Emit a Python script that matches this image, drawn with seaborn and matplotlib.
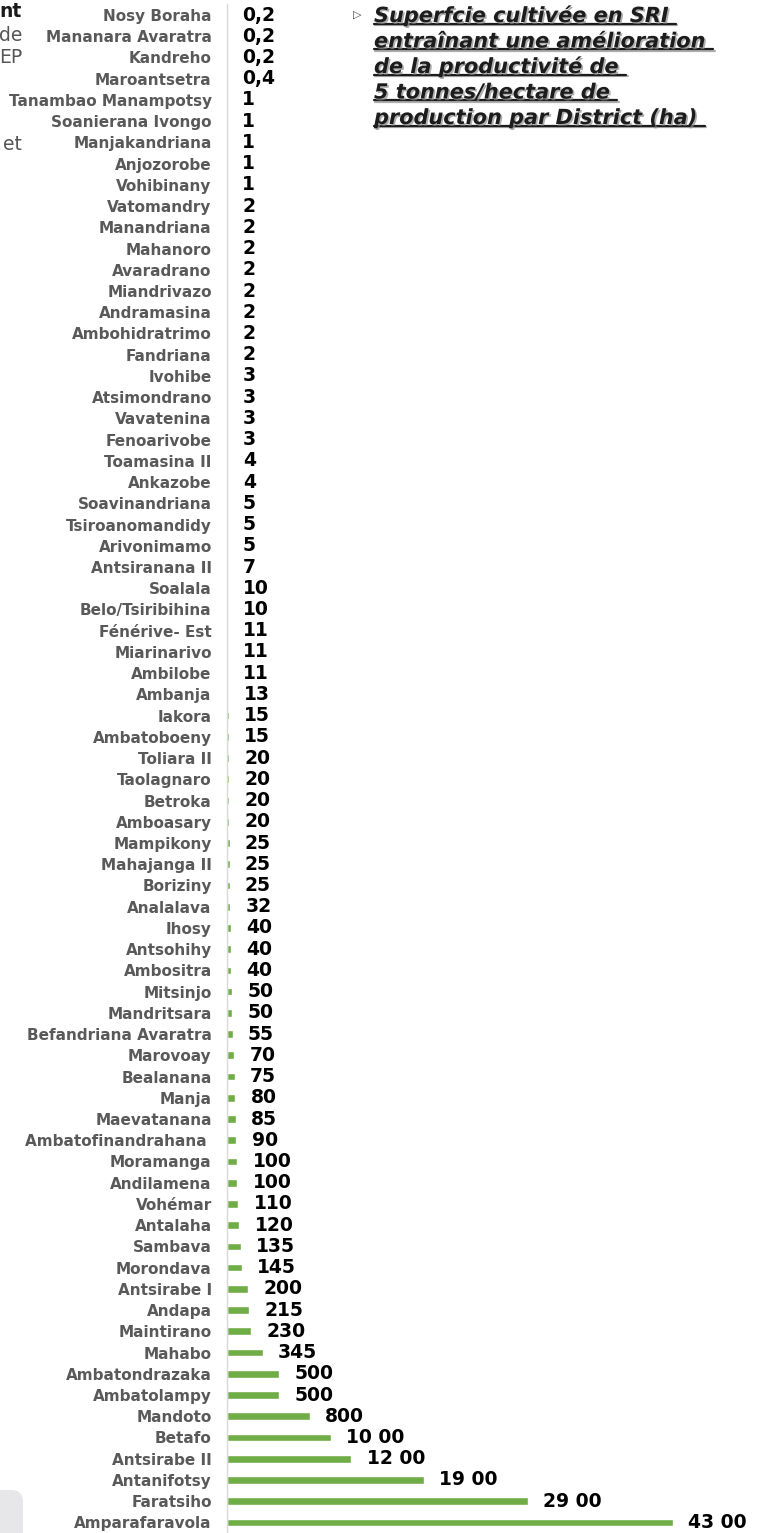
import matplotlib
matplotlib.use("Agg")
import matplotlib.pyplot as plt
import matplotlib.patheffects as pe
from matplotlib.patches import FancyBboxPatch
from matplotlib.lines import Line2D
import seaborn as sns
import pandas as pd

districts = [
    "Nosy Boraha", "Mananara Avaratra", "Kandreho", "Maroantsetra",
    "Tanambao Manampotsy", "Soanierana Ivongo", "Manjakandriana", "Anjozorobe",
    "Vohibinany", "Vatomandry", "Manandriana", "Mahanoro", "Avaradrano",
    "Miandrivazo", "Andramasina", "Ambohidratrimo", "Fandriana", "Ivohibe",
    "Atsimondrano", "Vavatenina", "Fenoarivobe", "Toamasina II", "Ankazobe",
    "Soavinandriana", "Tsiroanomandidy", "Arivonimamo", "Antsiranana II",
    "Soalala", "Belo/Tsiribihina", "Fénérive- Est", "Miarinarivo", "Ambilobe",
    "Ambanja", "Iakora", "Ambatoboeny", "Toliara II", "Taolagnaro", "Betroka",
    "Amboasary", "Mampikony", "Mahajanga II", "Boriziny", "Analalava", "Ihosy",
    "Antsohihy", "Ambositra", "Mitsinjo", "Mandritsara", "Befandriana Avaratra",
    "Marovoay", "Bealanana", "Manja", "Maevatanana", "Ambatofinandrahana ",
    "Moramanga", "Andilamena", "Vohémar", "Antalaha", "Sambava", "Morondava",
    "Antsirabe I", "Andapa", "Maintirano", "Mahabo", "Ambatondrazaka",
    "Ambatolampy", "Mandoto", "Betafo", "Antsirabe II", "Antanifotsy",
    "Faratsiho", "Amparafaravola",
]
values = [
    0.2, 0.2, 0.2, 0.4,
    1, 1, 1, 1,
    1, 2, 2, 2, 2,
    2, 2, 2, 2, 3,
    3, 3, 3, 4, 4,
    5, 5, 5, 7,
    10, 10, 11, 11, 11,
    13, 15, 15, 20, 20, 20,
    20, 25, 25, 25, 32, 40,
    40, 40, 50, 50, 55,
    70, 75, 80, 85, 90,
    100, 100, 110, 120, 135, 145,
    200, 215, 230, 345, 500,
    500, 800, 1000, 1200, 1900,
    2900, 4300,
]
title_lines = [
    "Superfcie cultivée en SRI",
    "entraînant une amélioration",
    "de la productivité de",
    "5 tonnes/hectare de",
    "production par District (ha)",
]
side_fragments = ["nt", "de", "EP", "et"]


def fmt(v):
    if v < 1:
        return f"{v:.1f}".replace(".", ",")
    if v >= 1000:
        return f"{int(v) // 100} 00"
    return f"{int(v)}"


sns.set_theme(style="white")
plt.rcParams["font.family"] = ["DejaVu Sans"]

W, H = 765, 1533
fig = plt.figure(figsize=(W / 100, H / 100), dpi=100)
fig.patch.set_facecolor("white")

ax_left = 227
ax_top = 4.4
ax = fig.add_axes([ax_left / W, 0, (W - ax_left) / W, (H - ax_top) / H])
df = pd.DataFrame({"district": districts, "value": values})
sns.barplot(data=df, x="value", y="district", orient="h", color="#70AD47",
            saturation=1, width=0.36, ax=ax)
ax.set_xlim(0, (W - ax_left) / 0.1037)
ax.set_ylim(len(districts) - 0.5, -0.5)
for s in ["top", "right", "bottom"]:
    ax.spines[s].set_visible(False)
ax.spines["left"].set_color("#d9d9d9")
ax.spines["left"].set_linewidth(1.0)
ax.set_xticks([])
ax.set_xlabel("")
ax.set_ylabel("")
ax.tick_params(axis="y", length=0, pad=11, labelsize=11, labelcolor="#595959")
for lbl in ax.get_yticklabels():
    lbl.set_fontweight("bold")

for i, v in enumerate(values):
    ax.annotate(fmt(v), xy=(v, i), xytext=(11, 0), textcoords="offset points",
                va="center", ha="left", fontsize=13.5, fontweight="bold",
                color="black", annotation_clip=False)

# Title block with bullet, shadow and underline
shadow = [pe.SimplePatchShadow(offset=(1.2, -1.2), shadow_rgbFace="#8c8c8c", alpha=0.7),
          pe.Normal()]
fig.text(357 / W, 1 - 15 / H, "▷", fontsize=8, color="#444444",
         ha="center", va="center")
title_texts = []
for k, line in enumerate(title_lines):
    yb = 22 + 25.5 * k
    t = fig.text(374 / W, 1 - yb / H, line, fontsize=15, fontweight="bold",
                 fontstyle="italic", ha="left", va="baseline", color="#1c1c1c",
                 path_effects=shadow)
    title_texts.append((t, yb))

fig.canvas.draw()
renderer = fig.canvas.get_renderer()
for t, yb in title_texts:
    bb = t.get_window_extent(renderer)
    yu = (H - yb - 1.8) / H
    fig.add_artist(Line2D([bb.x0 / W, (bb.x1 + 7) / W], [yu, yu],
                          transform=fig.transFigure, color="#1c1c1c", lw=1.6,
                          path_effects=[pe.SimpleLineShadow(offset=(1, -1), shadow_color="#8c8c8c", alpha=0.7),
                                        pe.Normal()]))

# Cut-off fragments of neighbouring slide text on the left edge
frag_y = [17, 41, 63, 150]
for k, (frag, yb) in enumerate(zip(side_fragments, frag_y)):
    fig.text(22 / W, 1 - yb / H, frag, fontsize=13.5,
             fontweight="bold" if k == 0 else "normal",
             color="#1a1a1a" if k == 0 else "#555555",
             ha="right", va="baseline")

# Grey rounded shape bottom-left
fig.add_artist(FancyBboxPatch((-20 / W, -20 / H), 43 / W, (1533 - 1490 + 20) / H,
                              boxstyle="round,pad=0,rounding_size=0.015",
                              transform=fig.transFigure, facecolor="#e7e7e9",
                              edgecolor="none", mutation_aspect=W / H))

fig.savefig("out.png", dpi=100)
